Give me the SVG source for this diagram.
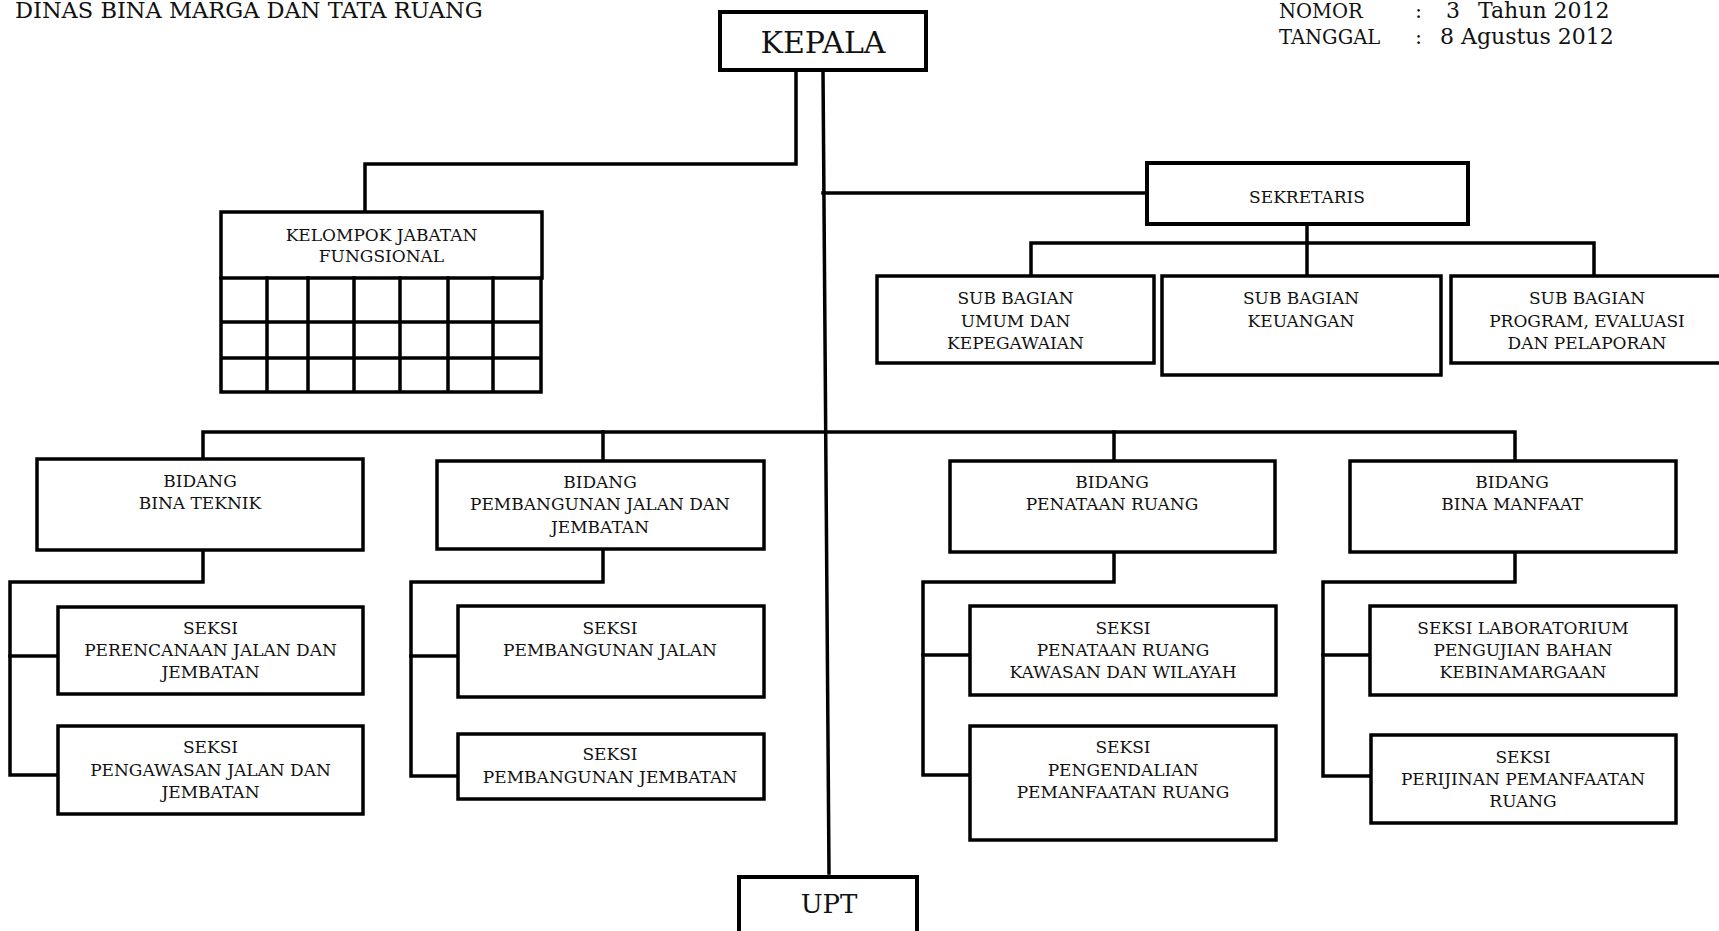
<svg xmlns="http://www.w3.org/2000/svg" width="1719" height="931" viewBox="0 0 1719 931">
<style>
  .box{fill:#fff;stroke:#000;stroke-width:3.5}
  .big{fill:#fff;stroke:#000;stroke-width:4}
  .ln{fill:none;stroke:#000;stroke-width:3.5;stroke-linecap:square}
  .t{font-family:"DejaVu Serif","Liberation Serif",serif;font-size:17px;fill:#111;text-anchor:middle}
  .tl{font-family:"DejaVu Serif","Liberation Serif",serif;fill:#111}
  .h{font-family:"DejaVu Serif","Liberation Serif",serif;fill:#111;text-anchor:middle}
</style>
<rect width="1719" height="931" fill="#fff"/>

<g id="header">
  <text class="tl" x="15" y="18" font-size="22.5">DINAS BINA MARGA DAN TATA RUANG</text>
  <text class="tl" x="1279" y="18" font-size="19.5">NOMOR</text>
  <text class="tl" x="1415" y="18" font-size="21">:</text>
  <text class="tl" x="1446" y="18" font-size="22">3</text>
  <text class="tl" x="1478" y="18" font-size="22">Tahun 2012</text>
  <text class="tl" x="1279" y="44" font-size="19.5">TANGGAL</text>
  <text class="tl" x="1415" y="44" font-size="21">:</text>
  <text class="tl" x="1440" y="44" font-size="22">8 Agustus 2012</text>
</g>

<g id="connectors">
  <path class="ln" d="M796,70 V164 H365 V212"/>
  <path class="ln" d="M823,70 L829,873" stroke-width="3"/>
  <path class="ln" d="M823,193 H1147"/>
  <path class="ln" d="M1307,224 V276"/>
  <path class="ln" d="M1031,276 V243 H1594 V276"/>
  <path class="ln" d="M203,459 V432 H1515 V461"/>
  <path class="ln" d="M603,432 V461"/>
  <path class="ln" d="M1114,432 V461"/>
  <path class="ln" d="M203,550 V582 H10 V775 H58"/>
  <path class="ln" d="M10,656 H58"/>
  <path class="ln" d="M603,549 V582 H411 V776 H458"/>
  <path class="ln" d="M411,656 H458"/>
  <path class="ln" d="M1114,552 V582 H923 V775 H970"/>
  <path class="ln" d="M923,655 H970"/>
  <path class="ln" d="M1515,552 V582 H1323 V776 H1371"/>
  <path class="ln" d="M1323,655 H1370"/>
</g>

<g id="kepala">
  <rect class="big" x="720" y="12" width="206" height="58"/>
  <text class="h" x="823" y="53" font-size="30">KEPALA</text>
</g>

<g id="kelompok">
  <rect class="box" x="221" y="212" width="321" height="66"/>
  <text class="t" x="381.5" y="241">KELOMPOK JABATAN</text>
  <text class="t" x="381.5" y="262">FUNGSIONAL</text>
  <path class="ln" d="M221,278 V392 M267,278 V392 M308,278 V392 M354,278 V392 M400,278 V392 M448,278 V392 M493,278 V392 M541,278 V392 M221,322 H541 M221,358 H541 M221,392 H541" stroke-width="4"/>
</g>

<g id="sekretaris">
  <rect class="big" x="1147" y="163" width="321" height="61"/>
  <text class="t" x="1307" y="203">SEKRETARIS</text>
</g>

<g id="subbag-umum">
  <rect class="box" x="877" y="276" width="277" height="87"/>
  <text class="t" x="1015.5" y="304">SUB BAGIAN</text>
  <text class="t" x="1015.5" y="327">UMUM DAN</text>
  <text class="t" x="1015.5" y="349">KEPEGAWAIAN</text>
</g>

<g id="subbag-keuangan">
  <rect class="box" x="1162" y="276" width="279" height="99"/>
  <text class="t" x="1301" y="304">SUB BAGIAN</text>
  <text class="t" x="1301" y="327">KEUANGAN</text>
</g>

<g id="subbag-program">
  <rect class="box" x="1451" y="276" width="300" height="87"/>
  <text class="t" x="1587" y="304">SUB BAGIAN</text>
  <text class="t" x="1587" y="327">PROGRAM, EVALUASI</text>
  <text class="t" x="1587" y="349">DAN PELAPORAN</text>
</g>

<g id="bidang-bina-teknik">
  <rect class="box" x="37" y="459" width="326" height="91"/>
  <text class="t" x="200" y="487">BIDANG</text>
  <text class="t" x="200" y="509">BINA TEKNIK</text>
</g>

<g id="bidang-pembangunan">
  <rect class="box" x="437" y="461" width="327" height="88"/>
  <text class="t" x="600" y="488">BIDANG</text>
  <text class="t" x="600" y="510">PEMBANGUNAN JALAN DAN</text>
  <text class="t" x="600" y="533">JEMBATAN</text>
</g>

<g id="bidang-penataan">
  <rect class="box" x="950" y="461" width="325" height="91"/>
  <text class="t" x="1112" y="488">BIDANG</text>
  <text class="t" x="1112" y="510">PENATAAN RUANG</text>
</g>

<g id="bidang-bina-manfaat">
  <rect class="box" x="1350" y="461" width="326" height="91"/>
  <text class="t" x="1512" y="488">BIDANG</text>
  <text class="t" x="1512" y="510">BINA MANFAAT</text>
</g>

<g id="seksi-perencanaan">
  <rect class="box" x="58" y="607" width="305" height="87"/>
  <text class="t" x="210.5" y="634">SEKSI</text>
  <text class="t" x="210.5" y="656">PERENCANAAN JALAN DAN</text>
  <text class="t" x="210.5" y="678">JEMBATAN</text>
</g>

<g id="seksi-pengawasan">
  <rect class="box" x="58" y="726" width="305" height="88"/>
  <text class="t" x="210.5" y="753">SEKSI</text>
  <text class="t" x="210.5" y="776">PENGAWASAN JALAN DAN</text>
  <text class="t" x="210.5" y="798">JEMBATAN</text>
</g>

<g id="seksi-pembangunan-jalan">
  <rect class="box" x="458" y="606" width="306" height="91"/>
  <text class="t" x="610" y="634">SEKSI</text>
  <text class="t" x="610" y="656">PEMBANGUNAN JALAN</text>
</g>

<g id="seksi-pembangunan-jembatan">
  <rect class="box" x="458" y="734" width="306" height="65"/>
  <text class="t" x="610" y="760">SEKSI</text>
  <text class="t" x="610" y="783">PEMBANGUNAN JEMBATAN</text>
</g>

<g id="seksi-penataan-ruang">
  <rect class="box" x="970" y="606" width="306" height="89"/>
  <text class="t" x="1123" y="634">SEKSI</text>
  <text class="t" x="1123" y="656">PENATAAN RUANG</text>
  <text class="t" x="1123" y="678">KAWASAN DAN WILAYAH</text>
</g>

<g id="seksi-pengendalian">
  <rect class="box" x="970" y="726" width="306" height="114"/>
  <text class="t" x="1123" y="753">SEKSI</text>
  <text class="t" x="1123" y="776">PENGENDALIAN</text>
  <text class="t" x="1123" y="798">PEMANFAATAN RUANG</text>
</g>

<g id="seksi-laboratorium">
  <rect class="box" x="1370" y="606" width="306" height="89"/>
  <text class="t" x="1523" y="634">SEKSI LABORATORIUM</text>
  <text class="t" x="1523" y="656">PENGUJIAN BAHAN</text>
  <text class="t" x="1523" y="678">KEBINAMARGAAN</text>
</g>

<g id="seksi-perijinan">
  <rect class="box" x="1371" y="735" width="305" height="88"/>
  <text class="t" x="1523" y="763">SEKSI</text>
  <text class="t" x="1523" y="785">PERIJINAN PEMANFAATAN</text>
  <text class="t" x="1523" y="807">RUANG</text>
</g>

<g id="upt">
  <rect class="big" x="739" y="877" width="178" height="70"/>
  <text class="h" x="829" y="913" font-size="26">UPT</text>
</g>
</svg>
